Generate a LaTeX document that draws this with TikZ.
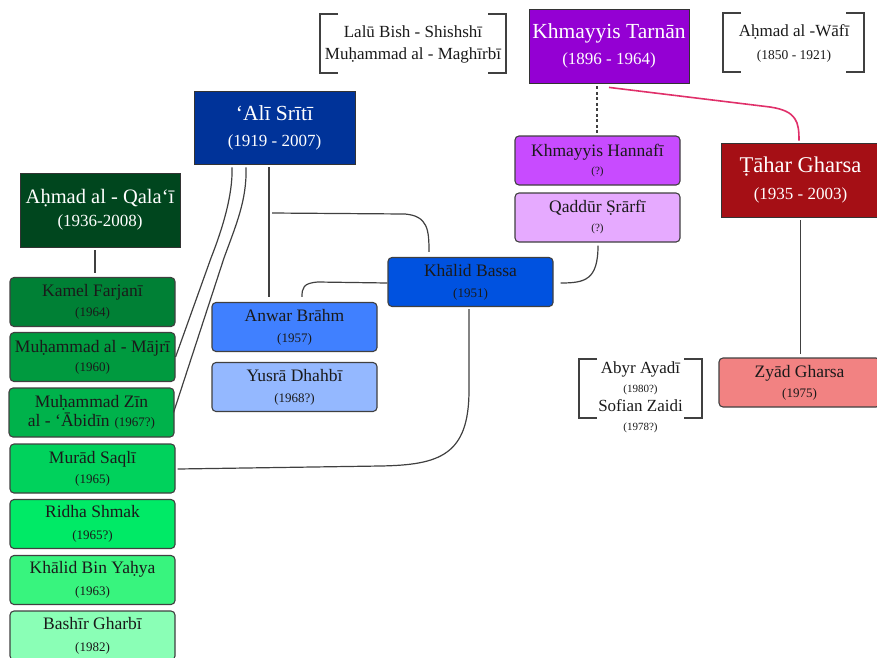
\documentclass[tikz,border=0pt]{standalone}
\usepackage{fontspec}
\setmainfont{Liberation Serif}
\definecolor{cTarnan}{HTML}{9400D3}
\definecolor{cAli}{HTML}{003399}
\definecolor{cQalai}{HTML}{00461E}
\definecolor{cTahar}{HTML}{A50F15}
\definecolor{cZyad}{HTML}{F28282}
\definecolor{cHannafi}{HTML}{C84BFF}
\definecolor{cQaddur}{HTML}{E6AAFF}
\definecolor{cKhalid}{HTML}{0052E0}
\definecolor{cAnwar}{HTML}{4080FF}
\definecolor{cYusra}{HTML}{94B8FF}
\definecolor{cKamel}{HTML}{008035}
\definecolor{cMajri}{HTML}{009A3F}
\definecolor{cZin}{HTML}{00B24B}
\definecolor{cMurad}{HTML}{00D25C}
\definecolor{cRidha}{HTML}{00EA66}
\definecolor{cBin}{HTML}{38F47E}
\definecolor{cBashir}{HTML}{8AFFB6}
\definecolor{cLine}{HTML}{404040}
\definecolor{cRed}{HTML}{E0306A}
\definecolor{cText}{HTML}{1A1A1A}
\newcommand\dtT[1]{{\fontsize{17}{19}\selectfont #1}}
\newcommand\dtS[1]{{\fontsize{13}{15}\selectfont #1}}
\newcommand\dtX[1]{{\fontsize{11}{13}\selectfont #1}}
\begin{document}
\begin{tikzpicture}[x=1pt,y=-1pt,
  tbox/.style={draw=black!80, line width=0.8pt, inner sep=0pt, align=center,
    text=white, minimum width=160pt, minimum height=74pt,
    font=\fontsize{21.5}{24}\selectfont},
  rbox/.style={draw=cLine, line width=1.1pt, rounded corners=4pt, inner sep=0pt,
    align=center, text=cText, minimum width=165pt, minimum height=49pt,
    font=\fontsize{17.5}{19}\selectfont},
  conn/.style={draw=cLine, line width=1.2pt},
  brk/.style={draw=black!75, line width=1.2pt},
  plain/.style={inner sep=0pt, align=center, text=cText, font=\fontsize{17}{20}\selectfont}
]
\useasboundingbox (0,0) rectangle (877,657);

% top-level boxes
\node[tbox, fill=cTarnan] (tarnan) at (609,46) {Khmayyis Tarnān\\[2pt]\dtT{(1896 - 1964)}};
\node[tbox, fill=cAli, minimum width=161pt, minimum height=73pt] (ali) at (274.5,127.5) {‘Alī Srītī\\[2pt]\dtT{(1919 - 2007)}};
\node[tbox, fill=cQalai, font=\fontsize{20.5}{23}\selectfont] (qalai) at (100,210) {Aḥmad al - Qala‘ī\\[0pt]\dtT{(1936-2008)}};
\node[tbox, fill=cTahar, minimum width=159pt, font=\fontsize{22.5}{25}\selectfont] (tahar) at (800.5,180) {Ṭāhar Gharsa\\[2pt]\dtT{(1935 - 2003)}};

% purple / red side
\node[rbox, fill=cHannafi] (hannafi) at (597.5,160.5) {Khmayyis Hannafī\\[-1pt]\dtX{(?)}};
\node[rbox, fill=cQaddur] (qaddur) at (597.5,217.5) {Qaddūr Ṣrārfī\\[0pt]\dtX{(?)}};
\node[rbox, fill=cZyad, minimum width=161pt] (zyad) at (799.5,382.5) {Zyād Gharsa\\[1pt]\dtS{(1975)}};

% blue side
\node[rbox, fill=cKhalid] (khalid) at (470.5,282) {Khālid Bassa\\[2pt]\dtS{(1951)}};
\node[rbox, fill=cAnwar] (anwar) at (294.5,327) {Anwar Brāhm\\[2pt]\dtS{(1957)}};
\node[rbox, fill=cYusra] (yusra) at (294.5,387) {Yusrā Dhahbī\\[2pt]\dtS{(1968?)}};

% green column
\node[rbox, fill=cKamel] (kamel) at (92.5,302) {Kamel Farjanī\\[1pt]\dtS{(1964)}};
\node[rbox, fill=cMajri] (majri) at (92.5,357) {Muḥammad al - Mājrī\\[0pt]\dtS{(1960)}};
\node[rbox, fill=cZin] (zin) at (91.5,412.5) {Muḥammad Zīn\\[0pt]al - ‘Ābidīn\hspace{5pt}\dtS{(1967?)}};
\node[rbox, fill=cMurad] (murad) at (92.5,468.5) {Murād Saqlī\\[1pt]\dtS{(1965)}};
\node[rbox, fill=cRidha] (ridha) at (92.5,524) {Ridha Shmak\\[3pt]\dtS{(1965?)}};
\node[rbox, fill=cBin] (bin) at (92.5,580) {Khālid Bin Yaḥya\\[3pt]\dtS{(1963)}};
\node[rbox, fill=cBashir] (bashir) at (92.5,635.5) {Bashīr Gharbī\\[3pt]\dtS{(1982)}};

% bracketed groups
\node[plain] (lalu) at (413,44) {Lalū Bish - Shishshī\\[2pt]Muḥammad al - Maghīrbī};
\draw[brk] (338,14) -- (320,14) -- (320,73) -- (338,73);
\draw[brk] (488,14) -- (506,14) -- (506,73) -- (488,73);

\node[plain] (wafi) at (794,43) {Aḥmad al -Wāfī\\[3pt]{\fontsize{13.5}{15}\selectfont (1850 - 1921)}};
\draw[brk] (741,13) -- (723,13) -- (723,72) -- (741,72);
\draw[brk] (846,13) -- (864,13) -- (864,72) -- (846,72);

\node[plain] (abyr) at (640.5,397) {Abyr Ayadī\\[-1pt]\dtX{(1980?)}\\[-1pt]Sofian Zaidi\\[-1pt]\dtX{(1978?)}};
\draw[brk] (597,359) -- (579,359) -- (579,418) -- (597,418);
\draw[brk] (684,359) -- (702,359) -- (702,418) -- (684,418);

% connectors
\draw[conn, dashed, dash pattern=on 3pt off 2.5pt] ([xshift=-12pt,yshift=-3pt]tarnan.south) -- ([xshift=-0.5pt,yshift=2pt]hannafi.north);
\draw[draw=cRed, line width=1.6pt] ([yshift=-4pt]tarnan.south) -- (770,107) .. controls (797,111) and (799,122) .. ([xshift=-1.5pt,yshift=2pt]tahar.north);
\draw[conn] ([yshift=-3pt]tahar.south) -- ([yshift=3pt]zyad.north -| tahar.south);

\draw[conn] ([xshift=-5pt,yshift=-3pt]qalai.south) -- ([xshift=2.5pt,yshift=4pt]kamel.north);

\coordinate (alibr) at (272,213);
\draw[conn] ([xshift=-5.5pt,yshift=-3pt]ali.south) -- ([xshift=-25.5pt,yshift=5pt]anwar.north);
\draw[conn] (alibr) -- (405,214) .. controls (428,216) and (429,230) .. ([xshift=-41.5pt,yshift=5pt]khalid.north);
\draw[conn] ([yshift=-1pt]khalid.west) -- (318,282) .. controls (303,283) and (302,288) .. ([xshift=7.5pt,yshift=5pt]anwar.north);
\draw[conn] ([xshift=-1.5pt,yshift=-2pt]khalid.south) -- (469,390) .. controls (469,455) and (440,465) .. (380,466) -- ([xshift=2pt,yshift=-0.5pt]murad.east);
\draw[conn] ([xshift=0.5pt,yshift=-3pt]qaddur.south) .. controls (598,280) and (585,283) .. ([xshift=7pt,yshift=-1pt]khalid.east);

\draw[conn] ([xshift=-42.5pt,yshift=-3pt]ali.south) .. controls (233,195) and (222,230) .. (211,258) -- (majri.east);
\draw[conn] ([xshift=-28.5pt,yshift=-3pt]ali.south) .. controls (247,200) and (236,225) .. (224,258) -- ([xshift=-1pt]zin.east);
\end{tikzpicture}
\end{document}
